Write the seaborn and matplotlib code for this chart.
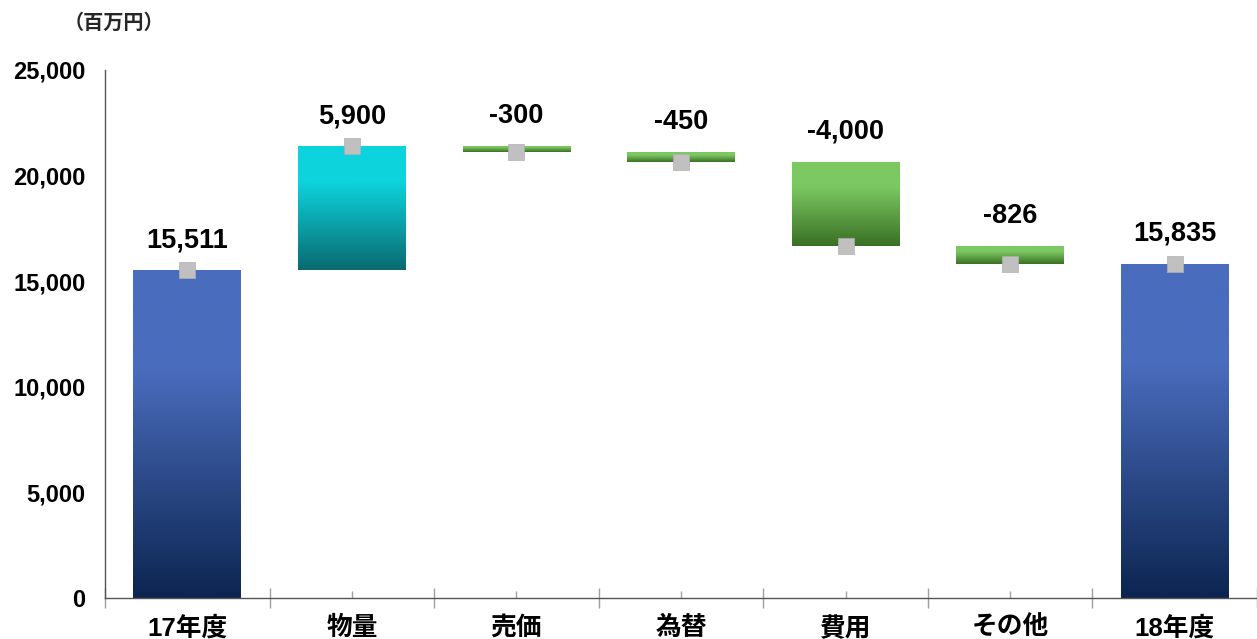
import numpy as np
import pandas as pd
import seaborn as sns
import matplotlib.pyplot as plt
from matplotlib.colors import LinearSegmentedColormap

sns.set_theme(style="white")
plt.rcParams['font.family'] = ['Liberation Sans', 'Noto Sans CJK JP', 'DejaVu Sans']
plt.rcParams['font.weight'] = 'bold'

# data
categories = ["17年度", "物量", "売価", "為替", "費用", "その他", "18年度"]
changes = [15511, 5900, -300, -450, -4000, -826, 15835]
labels = ["15,511", "5,900", "-300", "-450", "-4,000", "-826", "15,835"]
kinds = ["total", "up", "down", "down", "down", "down", "total"]

# cumulative values for floating bars
ends = []
bottoms = []
running = 0
for v, k in zip(changes, kinds):
    if k == "total":
        bottoms.append(0)
        running = v
        ends.append(v)
    else:
        prev = running
        running = prev + v
        bottoms.append(min(prev, running))
        ends.append(running)
tops = [b + abs(v) if k != "total" else v for b, v, k in zip(bottoms, changes, kinds)]

df = pd.DataFrame({"cat": categories, "bottom": bottoms, "top": tops,
                   "end": ends, "kind": kinds, "label": labels})

grads = {
    "total": ("#4a6cbd", "#0c2550"),
    "up": ("#0dd3dd", "#0a6a70"),
    "down": ("#7cc862", "#3a7024"),
}

fig = plt.figure(figsize=(12.57, 6.39), dpi=100)
ax = fig.add_axes([105 / 1257, 1 - 598 / 639, 1 - 105 / 1257, (598 - 70) / 639])

x = np.arange(len(df))
bars = ax.bar(x, df["top"] - df["bottom"], bottom=df["bottom"], width=0.655,
              color="none", edgecolor="none", zorder=2)

# gradient fill: flat at the top, darkening toward the bottom
for bar, kind in zip(bars, df["kind"]):
    top_c, bot_c = grads[kind]
    cmap = LinearSegmentedColormap.from_list("g", [(0, bot_c), (0.7, top_c), (1, top_c)])
    grad = np.linspace(0, 1, 256).reshape(-1, 1)
    bx, by = bar.get_x(), bar.get_y()
    bw, bh = bar.get_width(), bar.get_height()
    im = ax.imshow(grad, cmap=cmap, origin="lower", aspect="auto",
                   extent=[bx, bx + bw, by, by + bh], zorder=2)
    im.set_clip_path(bar)

# markers at the running total
sns.scatterplot(x=x, y=df["end"], ax=ax, marker="s", s=120, color="#c0c0c0",
                edgecolor="#b0b0b0", linewidth=0.5, zorder=4, legend=False)
ax.set_xlabel("")
ax.set_ylabel("")

for xi, t, lab in zip(x, df["top"], df["label"]):
    ax.annotate(lab, (xi, t), xytext=(0, 12), textcoords="offset points",
                ha="center", va="bottom", fontsize=19.5, fontweight="bold", color="black")

ax.set_xlim(-0.5, len(df) - 0.5)
ax.set_ylim(0, 25000)
ax.set_yticks(range(0, 25001, 5000))
ax.set_yticklabels([f"{v:,}" for v in range(0, 25001, 5000)])
ax.set_xticks(np.arange(-0.5, len(df), 1.0))
ax.set_xticklabels([])
ax.set_xticks(x, minor=True)
ax.set_xticklabels(categories, minor=True)

ax.tick_params(axis="y", length=0, pad=14, labelsize=17, labelcolor="black")
ax.tick_params(axis="x", which="major", direction="inout", length=14, width=1,
               color="#a0a0a0", bottom=True)
ax.tick_params(axis="x", which="minor", direction="in", length=5, width=1,
               color="#a0a0a0", bottom=True, pad=13, labelsize=18.5, labelcolor="black")
for lab in ax.get_yticklabels() + ax.get_xticklabels(minor=True):
    lab.set_fontweight("bold")

for s in ["top", "right"]:
    ax.spines[s].set_visible(False)
ax.spines["left"].set_color("#555555")
ax.spines["bottom"].set_color("#555555")
ax.spines["left"].set_linewidth(1)
ax.spines["bottom"].set_linewidth(1)
ax.grid(False)

fig.text(64 / 1257, 1 - 22 / 639, "（百万円）", fontsize=14.5, fontweight="bold",
         ha="left", va="center", family=["Noto Sans CJK JP", "DejaVu Sans"])

fig.savefig("out.png", dpi=100)
